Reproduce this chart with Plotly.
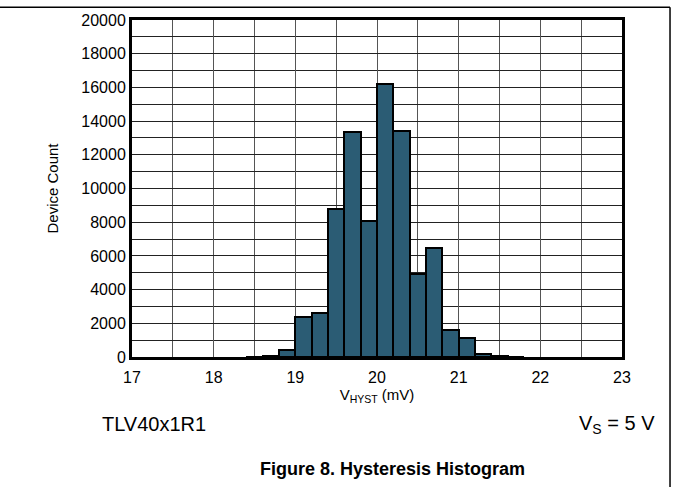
import plotly.graph_objects as go

bin_centers = [18.5, 18.7, 18.9, 19.1, 19.3, 19.5, 19.7, 19.9, 20.1, 20.3, 20.5, 20.7, 20.9, 21.1, 21.3, 21.5, 21.7]
counts = [10, 40, 400, 2400, 2600, 8800, 13350, 8050, 16200, 13400, 4950, 6450, 1630, 1140, 150, 40, 20]
bin_width = 0.2

x_ticks = [17, 18, 19, 20, 21, 22, 23]
y_ticks = [0, 2000, 4000, 6000, 8000, 10000, 12000, 14000, 16000, 18000, 20000]
y_tick_labels = [str(v) for v in y_ticks]

font_family = "Liberation Sans, Arial, sans-serif"

fig = go.Figure()
fig.add_trace(go.Bar(
    x=bin_centers, y=counts, width=[bin_width] * len(bin_centers),
    marker=dict(color="#2B5C74", line=dict(color="black", width=2)),
    showlegend=False,
))

fig.update_layout(
    width=673, height=487,
    margin=dict(l=132, r=51, t=18, b=130),
    paper_bgcolor="white", plot_bgcolor="white",
    font=dict(family=font_family, size=16, color="black"),
    xaxis=dict(
        range=[17, 23], tickvals=x_ticks, ticks="outside", ticklen=4, tickcolor="white",
        showgrid=True, gridcolor="#555555", gridwidth=1,
        minor=dict(dtick=0.5, showgrid=True, gridcolor="#555555", gridwidth=1),
        showline=True, linecolor="black", linewidth=3, mirror=True,
        zeroline=False,
        title=dict(text="V<sub>HYST</sub> (mV)", font=dict(size=15), standoff=3),
        tickfont=dict(size=16),
    ),
    yaxis=dict(
        range=[0, 20000], tickvals=y_ticks, ticktext=y_tick_labels, ticks="",
        showgrid=True, gridcolor="#222222", gridwidth=1,
        minor=dict(dtick=1000, showgrid=True, gridcolor="#222222", gridwidth=1),
        showline=True, linecolor="black", linewidth=3, mirror=True,
        zeroline=False,
        title=dict(text="Device Count", font=dict(size=15), standoff=20),
        tickfont=dict(size=16),
    ),
    bargap=0,
)

fig.add_shape(type="line", xref="paper", yref="paper",
              x0=-0.3, x1=1.098, y0=1.038, y1=1.038,
              line=dict(color="black", width=1.5))
fig.add_shape(type="line", xref="paper", yref="paper",
              x0=1.098, x1=1.098, y0=1.038, y1=-0.4,
              line=dict(color="black", width=1.5))

fig.add_annotation(text="TLV40x1R1", xref="paper", yref="paper",
                   x=-0.065, y=-0.2, xanchor="left", yanchor="middle",
                   showarrow=False, font=dict(size=20))
fig.add_annotation(text="V<sub>S</sub> = 5 V", xref="paper", yref="paper",
                   x=1.071, y=-0.2, xanchor="right", yanchor="middle",
                   showarrow=False, font=dict(size=20))
fig.add_annotation(text="<b>Figure 8. Hysteresis Histogram</b>", xref="paper", yref="paper",
                   x=0.531, y=-0.333, xanchor="center", yanchor="middle",
                   showarrow=False, font=dict(size=18))

fig.write_html("out.html", config={"displayModeBar": False},
               post_script="document.body.style.margin='0';document.body.style.overflow='hidden';")
